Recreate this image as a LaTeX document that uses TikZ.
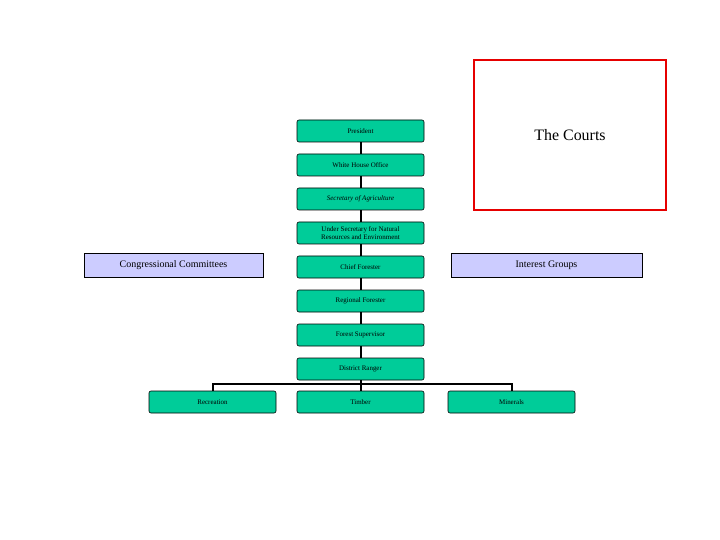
\documentclass[tikz,border=0pt]{standalone}
\usepackage{fontspec}
\setmainfont{Liberation Serif}
\begin{document}
\begin{tikzpicture}[x=1bp,y=-1bp,
  gbox/.style={draw=black,fill=green!55!cyan!70!black!0,fill={rgb,255:red,0;green,204;blue,153},rounded corners=2bp,minimum width=127bp,minimum height=22bp,inner sep=1bp,font=\fontsize{7}{7.5}\selectfont,align=center,line width=0.6bp},
  lbox/.style={draw=black,fill={rgb,255:red,204;green,204;blue,255},minimum height=24bp,font=\fontsize{10}{12}\selectfont,line width=0.5bp},
  conn/.style={line width=2bp}]
\useasboundingbox (0,0) rectangle (720,540);
\node[gbox] (pres) at (360.5,131) {President};
\node[gbox] (who) at (360.5,165) {White House Office};
\node[gbox] (sec) at (360.5,199) {\itshape Secretary of Agriculture};
\node[gbox] (under) at (360.5,233) {Under Secretary for Natural\\Resources and Environment};
\node[gbox] (chief) at (360.5,267) {Chief Forester};
\node[gbox] (reg) at (360.5,301) {Regional Forester};
\node[gbox] (fs) at (360.5,335) {Forest Supervisor};
\node[gbox] (dr) at (360.5,369) {District Ranger};
\node[gbox] (rec) at (212.5,402) {Recreation};
\node[gbox] (tim) at (360.5,402) {Timber};
\node[gbox] (min) at (511.5,402) {Minerals};
\node[lbox,minimum width=179bp] (cc) at (173.5,265) {Congressional Committees};
\node[lbox,minimum width=191bp] (ig) at (546.5,265) {Interest Groups};
\node[draw={rgb,255:red,230;green,0;blue,0},line width=2bp,minimum width=192bp,minimum height=150bp,font=\fontsize{16}{18}\selectfont] (courts) at (570,135) {The Courts};
\draw[conn] (pres) -- (who);
\draw[conn] (who) -- (sec);
\draw[conn] (sec) -- (under);
\draw[conn] (under) -- (chief);
\draw[conn] (chief) -- (reg);
\draw[conn] (reg) -- (fs);
\draw[conn] (fs) -- (dr);
\draw[conn] (dr) -- (tim);
\coordinate (bus) at (360.5,384);
\draw[conn] (rec.north) |- (bus) -| (min.north);
\end{tikzpicture}
\end{document}
